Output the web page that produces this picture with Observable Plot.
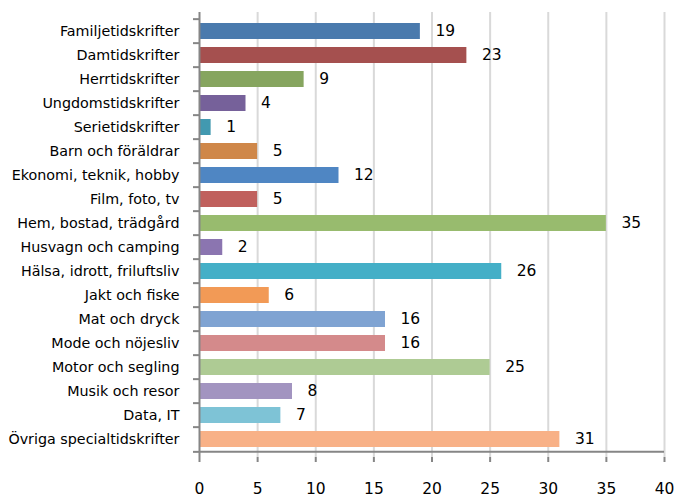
<!DOCTYPE html>
<html>
<head>
<meta charset="utf-8">
<script src="https://cdn.jsdelivr.net/npm/d3@7"></script>
<script src="https://cdn.jsdelivr.net/npm/@observablehq/plot@0.6"></script>
<style>
  html, body { margin: 0; padding: 0; background: #fff; }
  #chart svg { display: block; }
</style>
</head>
<body>
<div id="chart"></div>
<script>
const categories = [
  "Familjetidskrifter", "Damtidskrifter", "Herrtidskrifter", "Ungdomstidskrifter",
  "Serietidskrifter", "Barn och föräldrar", "Ekonomi, teknik, hobby", "Film, foto, tv",
  "Hem, bostad, trädgård", "Husvagn och camping", "Hälsa, idrott, friluftsliv", "Jakt och fiske",
  "Mat och dryck", "Mode och nöjesliv", "Motor och segling", "Musik och resor",
  "Data, IT", "Övriga specialtidskrifter"
];
const values = [19, 23, 9, 4, 1, 5, 12, 5, 35, 2, 26, 6, 16, 16, 25, 8, 7, 31];
const colors = [
  "#4a7aad", "#a5504f", "#86a55f", "#76619a", "#4299b0", "#cf8749",
  "#4f86c3", "#c0605d", "#98bb6e", "#8b75b0", "#44afc7", "#f29a56",
  "#7fa3d2", "#d48a8b", "#aecb94", "#a294c0", "#7ec3d6", "#f8b187"
];
const xTicks = [0, 5, 10, 15, 20, 25, 30, 35, 40];

const data = categories.map((c, i) => ({category: c, value: values[i], color: colors[i]}));
const last = categories[categories.length - 1];

const W = 676, H = 498, mT = 12, mB = 41, mL = 199, mR = 12;
const step = (H - mT - mB) / categories.length;
const font = "'DejaVu Sans', Verdana, sans-serif";

const chart = Plot.plot({
  width: W,
  height: H,
  marginTop: mT,
  marginBottom: mB,
  marginLeft: mL,
  marginRight: mR,
  style: {fontFamily: font, background: "#fff", color: "#000"},
  x: {type: "linear", domain: [0, 40], ticks: xTicks},
  y: {domain: categories, paddingInner: 0.34, paddingOuter: 0.17},
  marks: [
    Plot.gridX(xTicks.filter(d => d > 0), {stroke: "#d9d9d9", strokeOpacity: 1, strokeWidth: 2}),
    Plot.barX(data, {y: "category", x: "value", fill: d => d.color}),
    Plot.text(data, {y: "category", x: "value", text: d => String(d.value), textAnchor: "start", dx: 15, fontSize: 15.5, fill: "#000"}),
    // left axis line
    Plot.ruleX([0], {stroke: "#868686", strokeWidth: 2}),
    // bottom axis line
    Plot.ruleY([last], {x1: 0, x2: 40, dy: step / 2, stroke: "#868686", strokeWidth: 2}),
    // left tick marks at category boundaries
    Plot.ruleY(categories, {y: d => d, x1: 0, x2: 0, dy: -step / 2, stroke: "#868686", strokeWidth: 2, insetLeft: -6}),
    Plot.ruleY([last], {x1: 0, x2: 0, dy: step / 2, stroke: "#868686", strokeWidth: 2, insetLeft: -6}),
    Plot.axisX({ticks: xTicks, tickSize: 5, tickPadding: 20, fontSize: 15.5, stroke: "#868686", strokeWidth: 2, label: null, color: "#000"}),
    Plot.axisY({tickSize: 0, tickPadding: 20, fontSize: 14.3, label: null})
  ]
});
document.getElementById("chart").appendChild(chart);
</script>
</body>
</html>
